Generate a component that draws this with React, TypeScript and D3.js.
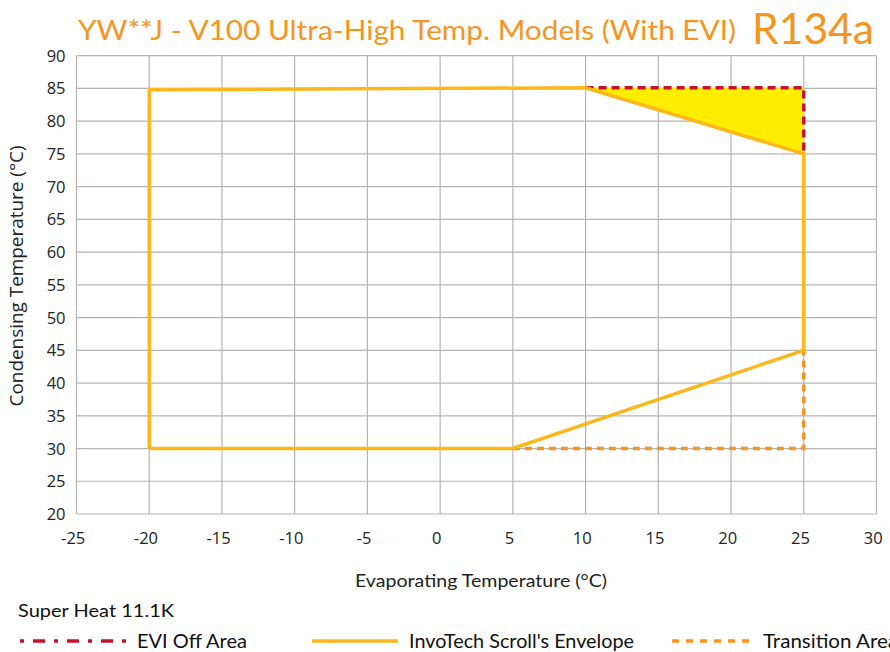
import React from "react";
import * as d3 from "d3";

const xTicks = [-25, -20, -15, -10, -5, 0, 5, 10, 15, 20, 25, 30];
const yTicks = [20, 25, 30, 35, 40, 45, 50, 55, 60, 65, 70, 75, 80, 85, 90];

const envelopeX = [-20, -20, 10, 25, 25, 5, -20];
const envelopeY = [30, 84.8, 85.1, 75, 45, 30, 30];

const eviOffX = [10, 25, 25];
const eviOffY = [85.1, 85.1, 75];

const transitionX = [5, 25, 25];
const transitionY = [30, 30, 45];

const W = 890, H = 652;
const M = { left: 76.5, right: 876.5, top: 55.7, bottom: 514 };

export default function App() {
  const x = d3.scaleLinear().domain([-25, 30]).range([M.left, M.right]);
  const y = d3.scaleLinear().domain([20, 90]).range([M.bottom, M.top]);
  const line = d3.line<[number, number]>().x(d => x(d[0])).y(d => y(d[1]));
  const env = envelopeX.map((v, i) => [v, envelopeY[i]] as [number, number]);
  const evi = eviOffX.map((v, i) => [v, eviOffY[i]] as [number, number]);
  const tr = transitionX.map((v, i) => [v, transitionY[i]] as [number, number]);
  const fillPts = [evi[0], evi[1], evi[2]];
  const tickFont = "'Open Sans', 'DejaVu Sans', sans-serif";
  const gill = "Lato, 'Open Sans', sans-serif";
  const orange = "#F7941D";
  const envColor = "#FDB71A";
  const red = "#C8102E";
  return (
    <svg width={W} height={H} style={{ position: "absolute", left: 0, top: 0, background: "#fff" }}>
      <text x={78} y={40} fontFamily={gill} fontSize={27} fill={orange} textLength={658} lengthAdjust="spacingAndGlyphs">
        YW**J - V100 Ultra-High Temp. Models (With EVI)
      </text>
      <text x={752} y={44} fontFamily={gill} fontSize={42} fill={orange} textLength={122} lengthAdjust="spacingAndGlyphs">
        R134a
      </text>
      {/* grid */}
      {xTicks.map(t => (
        <line key={"gx" + t} x1={x(t)} x2={x(t)} y1={M.top} y2={M.bottom} stroke="#b4b4b4" strokeWidth={1.2} />
      ))}
      {yTicks.map(t => (
        <line key={"gy" + t} x1={M.left} x2={M.right} y1={y(t)} y2={y(t)} stroke="#b4b4b4" strokeWidth={1.2} />
      ))}
      {/* tick labels */}
      {xTicks.map(t => (
        <text key={"tx" + t} x={x(t) - 3.3} y={544} textAnchor="middle" fontFamily={tickFont} fontSize={16.5} fill="#222">
          {t}
        </text>
      ))}
      {yTicks.map(t => (
        <text key={"ty" + t} x={65.5} y={y(t) + 6} textAnchor="end" fontFamily={tickFont} fontSize={16.5} fill="#222">
          {t}
        </text>
      ))}
      <text x={481} y={587} textAnchor="middle" fontFamily={gill} fontSize={18} fill="#222" textLength={252} lengthAdjust="spacingAndGlyphs">
        Evaporating Temperature (°C)
      </text>
      <text transform={`translate(23,276) rotate(-90)`} textAnchor="middle" fontFamily={tickFont} fontSize={18} fill="#222" textLength={261} lengthAdjust="spacingAndGlyphs">
        Condensing Temperature (°C)
      </text>
      {/* fill */}
      <path d={line(fillPts)! + "Z"} fill="#FFED00" stroke="none" />
      {/* transition */}
      <path d={line(tr)!} fill="none" stroke={orange} strokeWidth={3.5} strokeDasharray="7,5" />
      {/* EVI off */}
      <path d={line(evi)!} fill="none" stroke={red} strokeWidth={3.5} strokeDasharray="8,5" />
      {/* envelope */}
      <path d={line(env)!} fill="none" stroke={envColor} strokeWidth={3.5} strokeLinejoin="miter" />
      {/* legend */}
      <text x={18} y={617} fontFamily={gill} fontSize={18} fill="#111" textLength={156} lengthAdjust="spacingAndGlyphs">Super Heat 11.1K</text>
      <line x1={20} x2={131} y1={641} y2={641} stroke={red} strokeWidth={3.5} strokeDasharray="4,9,12,9" />
      <text x={137} y={648} fontFamily={gill} fontSize={19} fill="#111" textLength={110} lengthAdjust="spacingAndGlyphs">EVI Off Area</text>
      <line x1={312} x2={398} y1={641} y2={641} stroke={envColor} strokeWidth={3.5} />
      <text x={409} y={648} fontFamily={gill} fontSize={19} fill="#111" textLength={225} lengthAdjust="spacingAndGlyphs">InvoTech Scroll's Envelope</text>
      <line x1={672} x2={756} y1={641} y2={641} stroke={orange} strokeWidth={3.5} strokeDasharray="7,7" />
      <text x={763} y={648} fontFamily={gill} fontSize={19} fill="#111" textLength={135} lengthAdjust="spacingAndGlyphs">Transition Area</text>
    </svg>
  );
}
